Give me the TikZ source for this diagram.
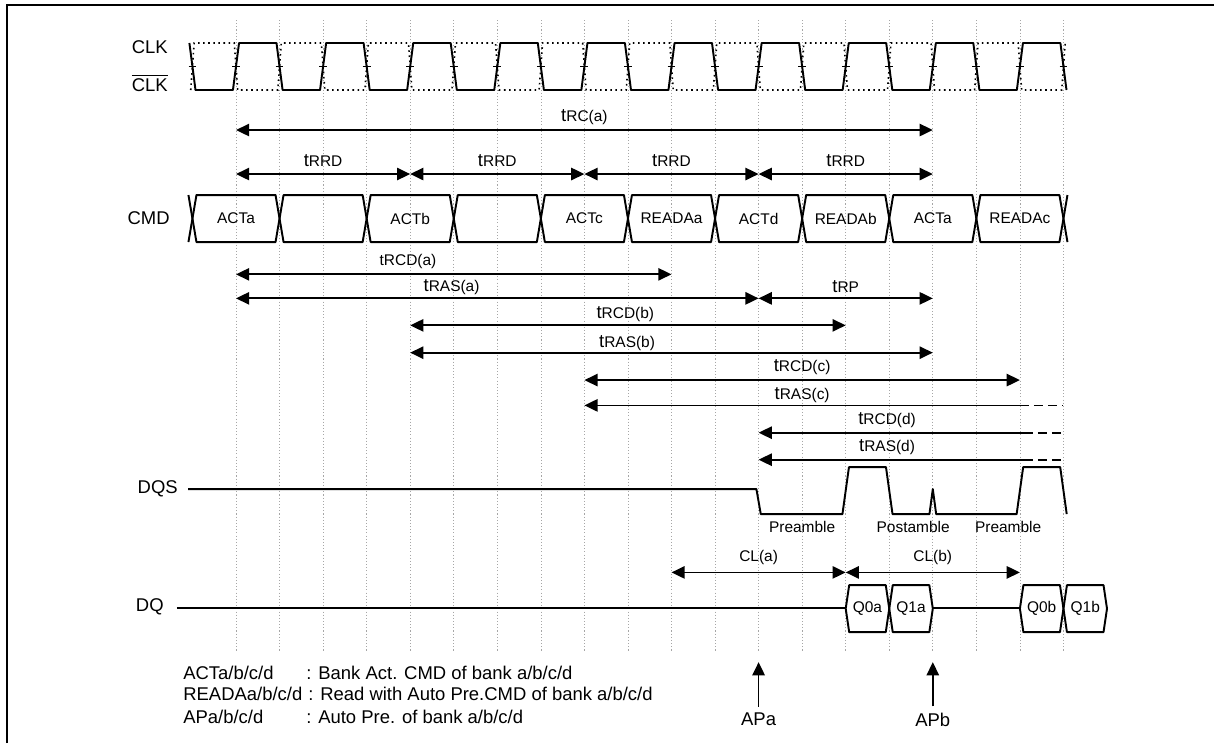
\documentclass[tikz,border=0pt]{standalone}
\usepackage{fontspec}
\setmainfont{Liberation Sans}
\usetikzlibrary{arrows.meta}
\newcommand\smtxt{\fontsize{8.8}{10}\selectfont}
\newcommand\tname[1]{t{\smtxt #1}}

\begin{document}
\begin{tikzpicture}[x=0.871cm,y=-0.02cm,>={Triangle[length=7.5pt,width=7pt]},
	font=\fontsize{10.5}{12.6}\selectfont,
	wave/.style={line width=1.1pt,line join=round},
	clkbar/.style={line width=0.9pt,dash pattern=on 0.9pt off 2pt},
	grid/.style={gray!70,line width=0.4pt,dash pattern=on 0.6pt off 1.2pt},
	tarr/.style={<->,line width=1pt},
	larr/.style={<-,line width=1pt},
	tail/.style={line width=1pt,dash pattern=on 5pt off 3pt},
	sname/.style={anchor=east,inner sep=0pt},
	smalllab/.style={font=\smtxt}]
	\useasboundingbox (-5.419,0) rectangle (22.457,743);
	\draw[line width=1.2pt] (-5.258,743) -- (-5.258,5) -- (22.457,5);
	\foreach \k in {0,...,19} \draw[grid] (\k,20) -- (\k,651);
	% clocks
	\draw[wave] (-1.07,43) \foreach \k in {0,2,...,18} { -- (\k-0.93,90) -- (\k-0.07,90) -- (\k+0.07,43) -- (\k+0.93,43) } -- (19.07,90);
	\draw[clkbar] (-1.04,90) \foreach \k in {0,2,...,18} { -- (\k-0.96,43) -- (\k-0.04,43) -- (\k+0.04,90) -- (\k+0.96,90) } -- (19.04,43);
	\foreach \k in {-1,...,19} \draw[line width=0.8pt] (\k-0.09,66.5) -- (\k+0.09,66.5);
	\node[sname] (clk) at (-1.561,47) {CLK};
	\node[sname] (clkb) at (-1.561,83) {$\overline{\mbox{CLK}}$};
	% tRC, tRRD
	\draw[tarr] (0,130) -- (16,130);
	\node (trc) at (8,117) {\tname{RC(a)}};
	\foreach \k in {0,4,8,12} {
		\draw[tarr] (\k,174) -- (\k+4,174);
		\node (trrd\k) at (\k+2,161) {\tname{RRD}};
	}
	% command bus
	\node[sname] (cmd) at (-1.515,218.5) {CMD};
	\foreach \a/\lab [count=\i] in {-1/ACTa,1/{},3/ACTb,5/{},7/ACTc,9/READAa,11/ACTd,13/READAb,15/ACTa,17/READAc} {
		\draw[wave] (\a,218.5) -- (\a+0.092,195) -- (\a+1.908,195) -- (\a+2,218.5) -- (\a+1.908,242) -- (\a+0.092,242) -- cycle;
		\node[smalllab] (cmd\i) at (\a+1,218.5) {\lab};
	}
	\draw[wave] (-1.092,195) -- (-1,218.5) -- (-1.092,242) (19.092,195) -- (19,218.5) -- (19.092,242);
	% bank timings
	\draw[tarr] (0,274.3) -- (10,274.3);
	\node[smalllab] (trcda) at (3.95,261.7) {tRCD(a)};
	\draw[tarr] (0,298.3) -- (12,298.3);
	\node (trasa) at (4.95,287) {\tname{RAS(a)}};
	\draw[tarr] (12,298.3) -- (16,298.3);
	\node (trp) at (14,287) {\tname{RP}};
	\draw[tarr] (4,325.3) -- (14,325.3);
	\node (trcdb) at (8.94,314) {\tname{RCD(b)}};
	\draw[tarr] (4,352.6) -- (16,352.6);
	\node (trasb) at (8.98,343.5) {\tname{RAS(b)}};
	\draw[tarr] (8,380) -- (18,380);
	\node (trcdc) at (13,366.7) {\tname{RCD(c)}};
	\draw[larr] (8,405.3) -- (18,405.3);
	\draw[tail] (18,405.3) -- (19,405.3);
	\node (trasc) at (13,394.7) {\tname{RAS(c)}};
	\draw[larr] (12,432.6) -- (18.09,432.6);
	\draw[tail] (18.09,432.6) -- (19,432.6);
	\node (trcdd) at (14.95,420) {\tname{RCD(d)}};
	\draw[larr] (12,459.6) -- (18.09,459.6);
	\draw[tail] (18.09,459.6) -- (19,459.6);
	\node (trasd) at (14.95,447.4) {\tname{RAS(d)}};
	% DQS
	\node[sname] (dqs) at (-1.33,489) {DQS};
	\draw[wave] (-1.102,489) -- (11.95,489) -- (12.05,514) -- (13.925,514) -- (14.075,467) -- (14.925,467) -- (15.075,514)
		-- (15.923,514) -- (16,489) -- (16.077,514) -- (17.925,514) -- (18.075,467) -- (18.925,467) -- (19.075,514);
	\node[smalllab] (pre1) at (13,527) {Preamble};
	\node[smalllab] (post) at (15.55,527) {Postamble};
	\node[smalllab] (pre2) at (17.73,527) {Preamble};
	% CL
	\draw[tarr] (10,572.3) -- (14,572.3);
	\node[smalllab] (cla) at (12,557.3) {CL(a)};
	\draw[tarr] (14,572.3) -- (18,572.3);
	\node[smalllab] (clb) at (16,557.3) {CL(b)};
	% DQ
	\node[sname] (dq) at (-1.653,607) {DQ};
	\draw[wave] (-1.355,608) -- (14,608) (16,608) -- (18,608);
	\foreach \a/\lab in {14/Q0a,15/Q1a,18/Q0b,19/Q1b} {
		\draw[wave] (\a,608.5) -- (\a+0.08,585) -- (\a+0.92,585) -- (\a+1,608.5) -- (\a+0.92,632) -- (\a+0.08,632) -- cycle;
		\node[smalllab] (dq\lab) at (\a+0.5,608.5) {\lab};
	}
	% auto precharge
	\node (apa) at (12,719.3) {APa};
	\draw[->,line width=1pt] (apa.north) -- (12,662);
	\node (apb) at (16,719.3) {APb};
	\draw[->,line width=1pt] (apb.north) -- (16,662);
	% legend
	\node[anchor=west,inner sep=0pt] (lg1) at (-1.217,672.7) {ACTa/b/c/d};
	\node[anchor=west,inner sep=0pt] (lg1t) at (1.61,672.7) {: Bank Act. CMD of bank a/b/c/d};
	\node[anchor=west,inner sep=0pt] (lg2) at (-1.217,694) {READAa/b/c/d};
	\node[anchor=west,inner sep=0pt] (lg2t) at (1.653,694) {: Read with Auto Pre.CMD of bank a/b/c/d};
	\node[anchor=west,inner sep=0pt] (lg3) at (-1.217,716.7) {APa/b/c/d};
	\node[anchor=west,inner sep=0pt] (lg3t) at (1.607,716.7) {: Auto Pre. of bank a/b/c/d};
\end{tikzpicture}
\end{document}
